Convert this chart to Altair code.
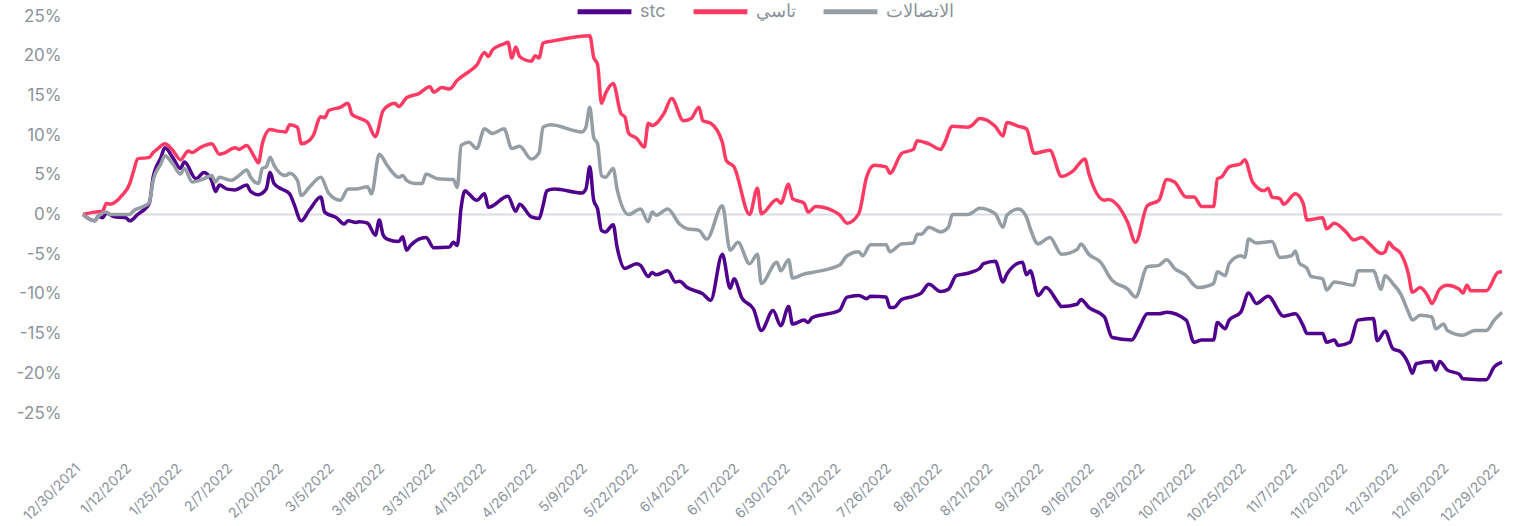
import altair as alt
import pandas as pd

# Cumulative change (%); first number = days since 12/30/2021
start_date = "2021-12-30"
series_names = ["stc", "تاسي", "الاتصالات"]
series_colors = ["#4f008c", "#ff3b63", "#959ea4"]

stc = [(0,0),(3,-0.8),(4,-0.2),(5,-0.4),(6,0.2),(8,-0.3),(11,-0.4),(12,-0.8),(14,0),(17,1.4),(18,4.7),(20,7.2),(21,8.4),(23,7.2),(25,5.8),(26,6.6),(29,4.5),(31,5.3),(33,4.3),(34,2.9),(35,3.7),(37,3.2),(39,3.1),(42,3.7),(43,2.9),(45,2.5),(47,3.2),(48,5.3),(49,3.9),(51,3.2),(53,2.6),(54,1.5),(56,-0.8),(58,0.5),(61,2.2),(62,0.3),(65,-0.4),(67,-1.2),(68,-0.8),(70,-1.0),(71,-0.9),(73,-1.1),(75,-2.6),(76,-0.7),(77,-2.6),(78,-3.1),(81,-3.4),(82,-2.8),(83,-4.5),(84,-3.9),(88,-2.9),(90,-4.2),(94,-4.1),(95,-3.5),(96,-3.9),(97,0.9),(98,3.0),(99,2.6),(101,1.8),(103,2.6),(104,0.9),(109,2.3),(111,0.4),(112,1.3),(115,-0.3),(117,-0.5),(118,1.1),(119,3.0),(121,3.2),(128,2.7),(129,3.2),(130,6.0),(131,1.8),(132,0.7),(133,-2.0),(134,-2.2),(136,-1.3),(137,-4.1),(139,-6.8),(142,-6.2),(143,-6.4),(145,-7.8),(146,-7.3),(147,-7.6),(150,-7.1),(152,-8.5),(153,-8.4),(155,-9.2),(159,-10.0),(161,-10.8),(164,-5.0),(166,-9.3),(167,-8.1),(169,-10.5),(172,-11.9),(174,-14.6),(177,-12.1),(179,-14.0),(181,-11.6),(182,-13.8),(185,-13.3),(186,-13.6),(187,-13.0),(194,-12.1),(196,-10.4),(199,-10.2),(201,-10.6),(202,-10.3),(206,-10.4),(207,-11.7),(208,-11.7),(210,-10.7),(213,-10.3),(215,-9.9),(217,-8.8),(220,-9.7),(222,-9.4),(224,-7.7),(227,-7.4),(230,-6.8),(231,-6.2),(234,-5.9),(236,-8.5),(237,-7.5),(241,-6.0),(242,-7.6),(243,-7.1),(245,-10.2),(247,-9.2),(250,-11.0),(251,-11.6),(255,-11.3),(256,-10.7),(258,-11.7),(262,-12.9),(264,-15.5),(269,-15.8),(271,-14.2),(273,-12.5),(276,-12.5),(278,-12.3),(283,-13.3),(285,-16.1),(287,-15.8),(290,-15.8),(291,-13.6),(293,-14.4),(294,-13.3),(297,-12.3),(299,-9.9),(301,-11.2),(304,-10.3),(308,-12.8),(311,-12.5),(313,-14.0),(314,-15.0),(318,-15.0),(319,-16.1),(321,-15.8),(322,-16.5),(325,-16.1),(327,-13.3),(331,-13.1),(332,-15.9),(334,-14.7),(336,-16.9),(338,-17.3),(340,-18.8),(341,-20.0),(342,-18.8),(346,-18.5),(347,-19.6),(348,-18.5),(350,-19.6),(353,-20.1),(354,-20.7),(358,-20.8),(360,-20.8),(362,-19.2),(364,-18.6)]

tasi = [(0,0),(3,0.3),(5,0.4),(6,1.4),(7,1.3),(10,2.4),(12,3.9),(13,5.5),(14,7.0),(17,7.2),(18,7.8),(19,8.2),(21,8.9),(23,8.1),(25,6.9),(27,8.0),(28,7.8),(30,8.4),(33,8.9),(35,7.6),(36,7.7),(39,8.4),(40,8.2),(42,8.7),(44,7.2),(45,6.5),(46,8.9),(48,10.7),(50,10.5),(52,10.4),(53,11.3),(55,11.0),(56,8.9),(58,9.3),(59,9.9),(61,12.3),(62,12.2),(63,13.1),(66,13.5),(68,14.0),(69,12.6),(71,12.1),(73,11.6),(75,9.8),(77,13.1),(80,14.0),(81,13.6),(83,14.7),(86,15.2),(89,16.1),(90,15.4),(92,16.0),(94,15.8),(96,16.9),(99,18.0),(101,18.8),(103,20.4),(104,19.9),(105,20.7),(108,21.5),(109,21.7),(110,19.7),(111,21.1),(112,19.9),(115,19.3),(116,20.0),(117,19.7),(118,21.6),(121,21.9),(130,22.5),(131,19.8),(132,18.9),(133,14.0),(134,15.2),(136,16.5),(138,12.7),(139,12.3),(140,10.2),(142,9.6),(144,8.5),(145,11.5),(146,11.2),(149,12.7),(151,14.6),(154,11.8),(156,12.1),(158,13.5),(159,11.8),(161,11.5),(164,9.1),(165,6.8),(167,6.0),(171,0.0),(173,3.3),(174,0.1),(178,1.9),(179,1.4),(181,3.8),(182,2.0),(185,1.4),(186,0.3),(188,1.0),(194,0.0),(196,-1.1),(199,0.1),(201,4.7),(203,6.2),(206,6.0),(207,5.2),(210,7.7),(213,8.2),(214,9.3),(217,8.9),(220,8.2),(221,9.0),(223,11.1),(227,11.0),(228,11.2),(230,12.1),(234,11.1),(236,9.9),(237,11.6),(240,11.1),(242,10.8),(244,7.7),(248,8.1),(251,4.8),(254,5.5),(257,7.0),(258,5.2),(262,1.8),(263,1.9),(268,-1.0),(270,-3.5),(273,1.1),(276,1.8),(278,4.4),(280,4.1),(283,2.2),(285,2.2),(287,1.0),(290,1.0),(291,4.5),(292,4.7),(294,6.0),(297,6.4),(298,6.9),(300,4.1),(303,3.0),(304,3.3),(305,2.2),(307,2.0),(308,1.3),(311,2.6),(313,1.4),(314,-0.7),(318,-0.4),(319,-1.8),(321,-1.1),(324,-2.2),(326,-3.2),(328,-2.9),(330,-3.7),(333,-4.9),(334,-4.7),(335,-3.5),(336,-4.1),(338,-4.9),(340,-7.5),(341,-9.8),(343,-9.2),(345,-10.3),(346,-11.2),(348,-9.4),(350,-8.9),(353,-9.4),(354,-9.9),(355,-8.9),(356,-9.6),(360,-9.6),(363,-7.3),(364,-7.2)]

etisalat = [(0,0),(3,-0.8),(4,-0.2),(6,0.3),(7,0),(12,0),(13,0.5),(15,0.9),(17,1.5),(18,4.3),(20,6.4),(21,7.4),(23,6.4),(25,5.1),(26,5.8),(28,4.1),(31,4.5),(33,4.9),(34,4.1),(35,4.7),(38,4.3),(40,4.9),(42,5.6),(43,4.7),(45,3.9),(46,5.8),(47,6.0),(48,7.2),(49,6.2),(52,4.9),(53,5.2),(55,4.3),(56,2.4),(58,3.4),(61,4.7),(63,2.7),(66,1.8),(68,3.2),(70,3.2),(73,3.5),(74,2.6),(76,7.6),(78,6.2),(81,4.7),(82,4.9),(83,4.3),(85,3.9),(87,3.9),(88,5.1),(91,4.5),(95,4.4),(96,3.4),(97,8.7),(99,9.1),(101,8.3),(103,10.8),(105,10.2),(108,10.8),(110,8.3),(112,8.6),(115,7.0),(117,7.8),(118,11.0),(120,11.3),(128,10.4),(129,11.0),(130,13.5),(131,9.7),(132,8.9),(133,4.9),(134,4.7),(136,5.8),(137,3.2),(140,0),(143,0.7),(145,-0.9),(146,0.3),(147,-0.1),(150,0.7),(153,-1.2),(155,-1.8),(158,-2.0),(160,-3.1),(164,1.1),(166,-4.5),(168,-3.5),(171,-6.2),(173,-5.0),(174,-8.7),(178,-6.0),(179,-7.1),(181,-5.7),(182,-8.0),(185,-7.5),(187,-7.3),(194,-6.4),(196,-5.2),(199,-4.7),(200,-5.2),(202,-3.8),(206,-3.8),(207,-4.7),(210,-3.7),(213,-3.6),(214,-2.5),(215,-2.5),(217,-1.6),(220,-2.2),(222,-1.6),(223,0),(227,0),(228,0.2),(230,0.8),(234,0.1),(236,-1.6),(237,-0.1),(240,0.7),(242,-0.3),(243,-1.8),(245,-3.7),(248,-2.9),(251,-5.0),(255,-4.4),(256,-3.7),(258,-5.0),(261,-6.0),(264,-8.3),(268,-9.4),(270,-10.4),(273,-6.6),(276,-6.4),(278,-5.7),(280,-6.8),(283,-7.7),(285,-8.9),(286,-9.2),(290,-8.7),(291,-7.2),(293,-7.7),(294,-6.2),(297,-5.2),(298,-5.4),(299,-3.1),(301,-3.6),(305,-3.4),(307,-5.4),(310,-5.2),(311,-4.6),(312,-6.1),(314,-6.8),(315,-7.8),(318,-8.1),(319,-9.5),(321,-8.5),(326,-8.9),(327,-7.1),(331,-7.1),(333,-9.4),(334,-7.7),(336,-8.7),(338,-10.0),(340,-12.3),(341,-13.3),(343,-12.7),(346,-12.9),(347,-14.4),(349,-13.8),(350,-14.6),(354,-15.2),(357,-14.6),(360,-14.6),(362,-13.3),(364,-12.3)]

tick_step_days = 13
y_ticks = [-25, -20, -15, -10, -5, 0, 5, 10, 15, 20, 25]

start = pd.Timestamp(start_date)
rows = []
for name, pts in zip(series_names, [stc, tasi, etisalat]):
    for d, v in pts:
        rows.append({"date": (start + pd.Timedelta(days=d)).strftime("%Y-%m-%dT00:00:00"),
                     "series": name, "value": v})
df = pd.DataFrame(rows)

def dt(ts):
    return alt.DateTime(year=ts.year, month=ts.month, date=ts.day)

tick_values = [dt(start + pd.Timedelta(days=d)) for d in range(0, 365, tick_step_days)]
end = start + pd.Timedelta(days=364)

FONT = "Inter"
TXT = "#8a939b"

y_scale = alt.Scale(domain=[-25, 25], nice=False)
y_axis = alt.Axis(values=y_ticks, labelExpr="datum.value + '%'",
                  labelOverlap=False, labelFlush=False,
                  labelFontSize=17, labelColor=TXT, labelFont=FONT, labelPadding=22,
                  domain=False, ticks=False, grid=False)

zero = alt.Chart(pd.DataFrame({"value": [0]})).mark_rule(color="#d9dde3", strokeWidth=2).encode(
    y=alt.Y("value:Q", title=None, scale=y_scale, axis=y_axis)
)

lines = alt.Chart(df).mark_line(strokeWidth=3.5, interpolate="monotone").encode(
    x=alt.X("date:T", title=None,
            scale=alt.Scale(domain=[dt(start), dt(end)], nice=False),
            axis=alt.Axis(values=tick_values, format="%-m/%-d/%Y", labelAngle=-45,
                          labelAlign="right", labelBaseline="top",
                          labelOverlap=False, labelFlush=False, labelBound=False,
                          labelFontSize=14, labelColor=TXT, labelFont=FONT,
                          labelPadding=48, labelOffset=-10,
                          domain=False, ticks=False, grid=False)),
    y=alt.Y("value:Q", title=None, scale=y_scale, axis=y_axis),
    color=alt.Color("series:N",
                    scale=alt.Scale(domain=series_names, range=series_colors),
                    legend=alt.Legend(title=None, orient="none", direction="horizontal",
                                      legendX=492, legendY=-34, symbolType="stroke",
                                      symbolSize=2900, symbolStrokeWidth=5,
                                      labelFontSize=18, labelColor=TXT, labelFont=FONT,
                                      labelOffset=6, columnPadding=17, padding=0)),
)

chart = alt.layer(zero, lines).properties(
    width=1419, height=397,
    autosize=alt.AutoSizeParams(type="none"),
    padding={"left": 83, "top": 16, "right": 16, "bottom": 113},
).configure_view(stroke=None)

chart.save("out.html", embed_options={"renderer": "svg", "actions": False})
